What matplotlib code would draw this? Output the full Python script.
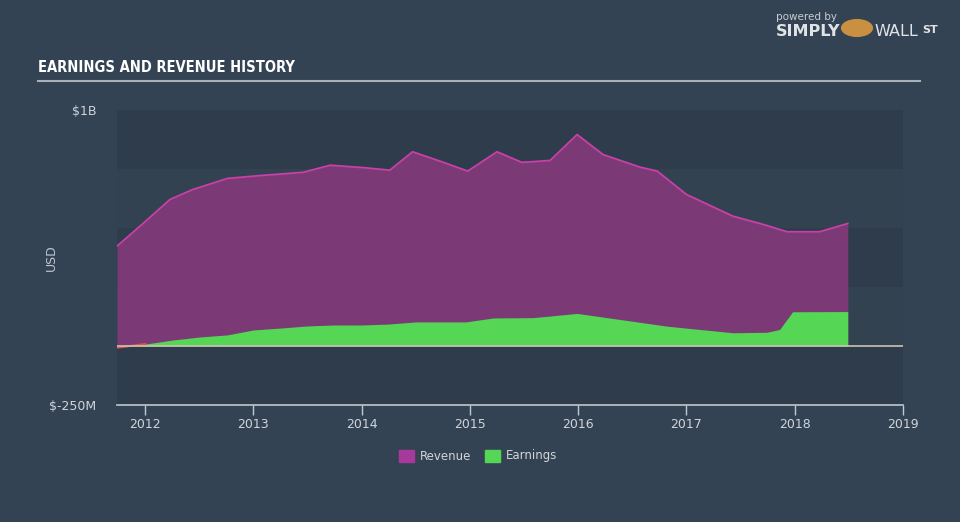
import numpy as np
import matplotlib.pyplot as plt
from matplotlib.patches import Rectangle
from matplotlib import font_manager

# revenue (billions USD)
rev_t = [2011.74, 2012.0, 2012.23, 2012.44, 2012.76, 2013.06, 2013.46, 2013.71, 2014.01,
         2014.26, 2014.47, 2014.75, 2014.98, 2015.25, 2015.48, 2015.74, 2015.99, 2016.23,
         2016.57, 2016.73, 2017.0, 2017.43, 2017.71, 2017.93, 2018.23, 2018.49]
rev_v = [0.423, 0.527, 0.621, 0.663, 0.710, 0.722, 0.736, 0.766, 0.756,
         0.745, 0.823, 0.779, 0.741, 0.823, 0.778, 0.786, 0.896, 0.811,
         0.758, 0.741, 0.642, 0.550, 0.515, 0.484, 0.484, 0.519]

# earnings (billions USD)
earn_t = [2011.74, 2012.0, 2012.25, 2012.5, 2012.76, 2013.0, 2013.25, 2013.5, 2013.74,
          2014.0, 2014.25, 2014.5, 2014.96, 2015.22, 2015.58, 2015.99, 2016.5, 2016.82,
          2017.43, 2017.74, 2017.86, 2017.98, 2018.49]
earn_v = [-0.007, 0.008, 0.025, 0.038, 0.047, 0.068, 0.076, 0.085, 0.089,
          0.089, 0.093, 0.102, 0.102, 0.119, 0.120, 0.138, 0.105, 0.084,
          0.056, 0.058, 0.070, 0.145, 0.146]

years = [2012, 2013, 2014, 2015, 2016, 2017, 2018, 2019]

bg = "#344354"
fig = plt.figure(figsize=(9.6, 5.22), dpi=100, facecolor=bg)
ax = fig.add_axes([117/960, 117/522, 786/960, 295/522])
ax.set_facecolor(bg)

x0, x1 = 2011.74, 2019.0
ax.set_xlim(x0, x1)
ax.set_ylim(-0.25, 1.0)

# alternating bands
for i, lo in enumerate(np.arange(-0.25, 1.0, 0.25)):
    col = "#2e3c4b" if i % 2 == 0 else "#334251"
    ax.add_patch(Rectangle((x0, lo), x1 - x0, 0.25, color=col, zorder=0, lw=0))

rt = np.array(rev_t); rv = np.array(rev_v)
et = np.array(earn_t); ev = np.array(earn_v)

ax.fill_between(rt, 0, rv, color="#7b3a76", lw=0, zorder=1)
ax.plot(rt, rv, color="#c840a8", lw=1.3, zorder=2)
ax.fill_between(et, 0, ev, where=ev >= 0, interpolate=True, color="#55d655", lw=0, zorder=3)
ax.fill_between(et, 0, ev, where=ev < 0, interpolate=True, color="#e8504a", lw=0, zorder=3)
ax.plot(et[:2], ev[:2], color="#e8504a", lw=1.5, zorder=4)

ax.axhline(0, color="#c8c4b0", lw=1.2, zorder=5)

for s in ["top", "right", "left"]:
    ax.spines[s].set_visible(False)
ax.spines["bottom"].set_color("#c0c8d0")
ax.spines["bottom"].set_linewidth(1.2)

ax.set_xticks(years)
ax.set_xticklabels([str(y) for y in years])
ax.tick_params(axis="x", colors="#c0c8d0", length=7, width=1, labelcolor="#d0d5da",
               labelsize=9, pad=2)
ax.set_yticks([1.0, -0.25])
ax.set_yticklabels(["$1B", "$-250M"])
ax.tick_params(axis="y", length=0, labelcolor="#d0d5da", labelsize=9, pad=15)
ax.set_ylabel("USD", color="#c0c6cc", fontsize=9)
ax.yaxis.set_label_coords(-0.075, 0.5)

# title and rule
names = {f.name for f in font_manager.fontManager.ttflist}
if "DejaVu Sans Condensed" in names:
    tfam = "DejaVu Sans Condensed"
elif "Liberation Sans Narrow" in names:
    tfam = "Liberation Sans Narrow"
else:
    tfam = "DejaVu Sans"
fig.text(38/960, 1 - 68/522, "EARNINGS AND REVENUE HISTORY", color="white",
         fontsize=10.5, fontweight="bold", family=tfam, fontstretch="condensed",
         va="center", ha="left")
fig.add_artist(plt.Line2D([38/960, 920/960], [1 - 81/522, 1 - 81/522],
                          color="#a8b0b8", lw=1.5))

# logo text
fig.text(776/960, 1 - 17/522, "powered by", color="#c8ccd2", fontsize=7.5, va="center")
fig.text(776/960, 1 - 32/522, "SIMPLY", color="#e0e3e6", fontsize=11.5,
         fontweight="bold", va="center")
fig.text(874/960, 1 - 32/522, "WALL", color="#e0e3e6", fontsize=11.5, va="center")
fig.text(922/960, 1 - 30/522, "ST", color="#e0e3e6", fontsize=8, fontweight="bold", va="center")
fig.add_artist(plt.Circle((857/960, 1 - 28/522), 0.016, color="#c89040",
                          transform=fig.transFigure))

# legend
fig.add_artist(Rectangle((399/960, 1 - 462/522), 15/960, 12/522, color="#a63a9a",
                         transform=fig.transFigure))
fig.text(420/960, 1 - 456/522, "Revenue", color="#d0d5da", fontsize=8.5, va="center")
fig.add_artist(Rectangle((485/960, 1 - 462/522), 15/960, 12/522, color="#55d655",
                         transform=fig.transFigure))
fig.text(506/960, 1 - 456/522, "Earnings", color="#d0d5da", fontsize=8.5, va="center")

fig.savefig("out.png", dpi=100, facecolor=bg)
